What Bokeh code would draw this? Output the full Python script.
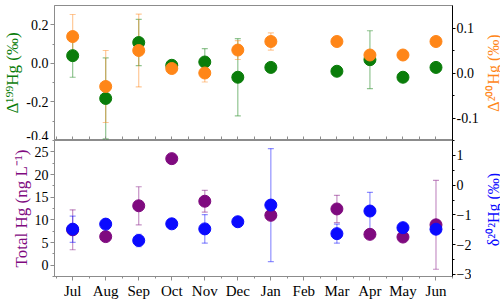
import math
from bokeh.plotting import figure
from bokeh.layouts import column, row
from bokeh.models import (Range1d, LinearAxis, SingleIntervalTicker, FixedTicker,
                          PrintfTickFormatter, ColumnDataSource, Whisker, TeeHead)
from bokeh.embed import file_html
from bokeh.resources import INLINE

NaN = float("nan")
months = ["Jul", "Aug", "Sep", "Oct", "Nov", "Dec", "Jan", "Feb", "Mar", "Apr", "May", "Jun"]

# Top panel: Δ199Hg (left axis) and Δ200Hg (right axis)
d199 = [0.040, -0.182, 0.108, -0.010, 0.007, -0.072, -0.021, NaN, -0.041, 0.019, -0.072, -0.021]
d199_err = [0.112, 0.21, 0.12, NaN, 0.069, 0.20, NaN, NaN, NaN, 0.15, NaN, NaN]
d200 = [0.081, -0.030, 0.050, 0.010, 0.000, 0.051, 0.070, NaN, 0.070, 0.040, 0.040, 0.070]
d200_err = [0.049, 0.080, 0.081, NaN, 0.020, 0.021, 0.019, NaN, NaN, NaN, NaN, NaN]

# Bottom panel: Total Hg (left axis) and δ202Hg (right axis)
thg = [7.8, 6.3, 13.1, 23.5, 14.1, NaN, 11.0, NaN, 12.4, 6.8, 6.2, 8.9]
thg_err = [4.4, NaN, 4.2, NaN, 2.4, NaN, NaN, NaN, 3.0, NaN, NaN, 9.8]
d202 = [-1.48, -1.31, -1.86, -1.30, -1.47, -1.23, -0.67, NaN, -1.63, -0.87, -1.43, -1.48]
d202_err = [0.44, NaN, 0.21, NaN, 0.48, NaN, 1.90, NaN, 0.32, 0.63, NaN, NaN]

GREEN = "#0a7d0a"
ORANGE = "#ff8618"
PURPLE = "#7f0a7f"
BLUE = "#0a0aff"
GRAY = "#8c8c8c"
FONT = "Liberation Serif"

X0, X1 = 0.45, 12.5
xs = list(range(1, len(months) + 1))
halves = [x + 0.5 for x in range(0, len(months) + 1)]


def pts(vals):
    x = [xi for xi, v in zip(xs, vals) if not math.isnan(v)]
    y = [v for v in vals if not math.isnan(v)]
    return ColumnDataSource(dict(x=x, y=y))


def errs(vals, e):
    x, lo, hi = [], [], []
    for xi, v, ei in zip(xs, vals, e):
        if not math.isnan(v) and not math.isnan(ei):
            x.append(xi); lo.append(v - ei); hi.append(v + ei)
    return ColumnDataSource(dict(x=x, lower=lo, upper=hi))


def add_err(p, vals, e, color, rname="default"):
    src = errs(vals, e)
    w = Whisker(base="x", lower="lower", upper="upper", source=src, dimension="height",
                line_color=color, line_alpha=0.45, line_width=1.2, y_range_name=rname,
                upper_head=TeeHead(size=6, line_color=color, line_alpha=0.45, line_width=1.2),
                lower_head=TeeHead(size=6, line_color=color, line_alpha=0.45, line_width=1.2))
    p.add_layout(w)


def style_label(ax, color, label, size="17px"):
    ax.axis_label = label
    ax.axis_label_text_color = color
    ax.axis_label_text_font = FONT
    ax.axis_label_text_font_size = size
    ax.axis_label_text_font_style = "normal"
    ax.axis_label_standoff = 1


def style_y(ax, line_color, tick_out=4, standoff=2):
    ax.major_label_text_font = FONT
    ax.major_label_text_font_size = "14px"
    ax.major_label_text_color = "black"
    ax.major_label_standoff = standoff
    ax.axis_line_color = line_color
    ax.major_tick_line_color = line_color
    ax.minor_tick_line_color = line_color
    ax.major_tick_out = tick_out
    ax.major_tick_in = 0
    ax.minor_tick_out = 2
    ax.minor_tick_in = 0


def base_fig(h, yr, mb_top):
    p = figure(frame_width=398, frame_height=h, x_range=Range1d(X0, X1), y_range=yr,
               output_backend="svg", toolbar_location=None,
               min_border_left=46, min_border_right=27, min_border_top=mb_top,
               min_border_bottom=0)
    p.xgrid.visible = False
    p.ygrid.visible = False
    p.outline_line_color = GRAY
    p.background_fill_color = "white"
    p.border_fill_color = "white"
    p.xaxis.axis_line_color = GRAY
    p.xaxis.major_tick_line_color = GRAY
    p.xaxis.minor_tick_line_color = GRAY
    return p


def label_fig(h, mb_top, mb_bottom, text, color):
    # narrow companion figure whose (left) axis title reads bottom-to-top,
    # acting as the title of the right-hand axis of the main panel
    q = figure(frame_width=1, frame_height=h, output_backend="svg", toolbar_location=None,
               x_range=Range1d(0, 1), y_range=Range1d(0, 1),
               min_border_left=0, min_border_right=0, min_border_top=mb_top,
               min_border_bottom=mb_bottom)
    q.xaxis.visible = False
    q.xgrid.visible = False
    q.ygrid.visible = False
    q.outline_line_color = None
    q.yaxis.ticker = FixedTicker(ticks=[])
    q.yaxis.axis_line_color = None
    q.yaxis.major_tick_out = 0
    q.yaxis.major_tick_in = 0
    q.yaxis.major_label_standoff = 0
    style_label(q.yaxis[0], color, text, "16px")
    q.yaxis.axis_label_standoff = 0
    return q


# ---------------- top ----------------
p1 = base_fig(135, Range1d(-0.4, 0.3), 5)
p1.extra_y_ranges = {"r": Range1d(-0.15, 0.15)}
p1.yaxis.ticker = SingleIntervalTicker(interval=0.2, num_minor_ticks=2)
p1.yaxis.formatter = PrintfTickFormatter(format="%.1f")
style_y(p1.yaxis[0], GRAY)
style_label(p1.yaxis[0], GREEN, "Δ¹⁹⁹Hg (‰)")
ax_r1 = LinearAxis(y_range_name="r", ticker=SingleIntervalTicker(interval=0.1, num_minor_ticks=2),
                   formatter=PrintfTickFormatter(format="%.1f"))
style_y(ax_r1, "black", tick_out=3, standoff=1)
p1.add_layout(ax_r1, "right")
# divider ticks only (pointing into the upper panel), no labels
p1.xaxis.ticker = FixedTicker(ticks=[], minor_ticks=sorted(xs + halves))
p1.xaxis.major_tick_in = 0
p1.xaxis.major_tick_out = 0
p1.xaxis.minor_tick_in = 4
p1.xaxis.minor_tick_out = 0
p1.xaxis.major_label_standoff = 0

add_err(p1, d199, d199_err, GREEN)
add_err(p1, d200, d200_err, ORANGE, "r")
p1.scatter("x", "y", source=pts(d199), size=12, color=GREEN)
p1.scatter("x", "y", source=pts(d200), size=12, color=ORANGE, y_range_name="r")

# ---------------- bottom ----------------
p2 = base_fig(136, Range1d(-2.5, 27.5), 0)
p2.extra_y_ranges = {"r": Range1d(-3.07, 1.5)}
p2.yaxis.ticker = SingleIntervalTicker(interval=5, num_minor_ticks=2)
style_y(p2.yaxis[0], GRAY)
style_label(p2.yaxis[0], PURPLE, "Total Hg (ng L⁻¹)")
ax_r2 = LinearAxis(y_range_name="r", ticker=SingleIntervalTicker(interval=1, num_minor_ticks=2))
style_y(ax_r2, "black", tick_out=3, standoff=1)
p2.add_layout(ax_r2, "right")
p2.xaxis.ticker = FixedTicker(ticks=xs, minor_ticks=halves)
p2.xaxis.major_label_overrides = {x: m for x, m in zip(xs, months)}
p2.xaxis.major_label_text_font = FONT
p2.xaxis.major_label_text_font_size = "15px"
p2.xaxis.major_label_text_color = "black"
p2.xaxis.major_label_standoff = 2
p2.xaxis.major_tick_in = 0
p2.xaxis.major_tick_out = 4
p2.xaxis.minor_tick_in = 0
p2.xaxis.minor_tick_out = 2

add_err(p2, thg, thg_err, PURPLE)
add_err(p2, d202, d202_err, BLUE, "r")
p2.scatter("x", "y", source=pts(thg), size=12, color=PURPLE)
p2.scatter("x", "y", source=pts(d202), size=12, color=BLUE, y_range_name="r")

q1 = label_fig(135, 5, 1, "Δ²⁰⁰Hg (‰)", ORANGE)
q2 = label_fig(136, 0, 20, "δ²⁰²Hg (‰)", BLUE)

layout = row(column(p1, p2, spacing=0), column(q1, q2, spacing=0), spacing=0)
open("out.html", "w").write(file_html(layout, INLINE))
